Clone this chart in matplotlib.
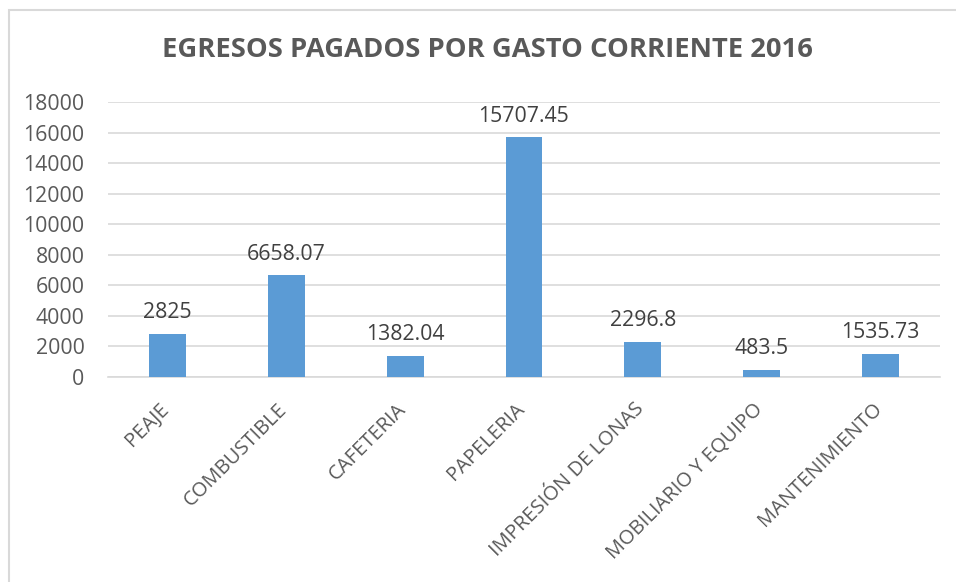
import matplotlib
matplotlib.use("Agg")
import matplotlib.pyplot as plt
from matplotlib.patches import Rectangle
from matplotlib.transforms import ScaledTranslation

categories = ["PEAJE", "COMBUSTIBLE", "CAFETERIA", "PAPELERIA",
              "IMPRESIÓN DE LONAS", "MOBILIARIO Y EQUIPO", "MANTENIMIENTO"]
values = [2825, 6658.07, 1382.04, 15707.45, 2296.8, 483.5, 1535.73]
value_labels = ["2825", "6658.07", "1382.04", "15707.45", "2296.8", "483.5", "1535.73"]
yticks = [0, 2000, 4000, 6000, 8000, 10000, 12000, 14000, 16000, 18000]

plt.rcParams['font.family'] = ['Open Sans', 'DejaVu Sans']

W, H = 956, 582
fig = plt.figure(figsize=(W / 100, H / 100), dpi=100)
fig.patch.set_facecolor("white")

# outer chart border
fig.add_artist(Rectangle((9 / W, -0.05), 1.2, 1 - 10 / H + 0.05, transform=fig.transFigure,
                         fill=False, edgecolor="#D9D9D9", linewidth=1.5))

ax = fig.add_axes([108 / W, 1 - 377 / H, (940 - 108) / W, (377 - 102) / H])
x = list(range(len(categories)))
ax.bar(x, values, width=0.31, color="#5B9BD5", zorder=3)
ax.set_xlim(-0.5, len(categories) - 0.5)
ax.set_ylim(0, 18000)
ax.set_yticks(yticks)
ax.set_yticklabels([str(t) for t in yticks], fontsize=15.3, color="#595959")
ax.yaxis.grid(True, color="#D9D9D9", linewidth=1.2, zorder=0)
ax.set_axisbelow(True)
for s in ["top", "right", "left"]:
    ax.spines[s].set_visible(False)
ax.spines["bottom"].set_color("#D9D9D9")
ax.spines["bottom"].set_linewidth(1.2)
ax.tick_params(axis="y", length=0, pad=17)
ax.set_xticks(x)
ax.set_xticklabels(categories, rotation=45, ha="right", rotation_mode="anchor",
                   fontsize=14.5, color="#595959")
ax.tick_params(axis="x", length=0, pad=16)
shift = ScaledTranslation(-9 / 100, 0, fig.dpi_scale_trans)
for lbl in ax.get_xticklabels():
    lbl.set_transform(lbl.get_transform() + shift)

for xi, v, lab in zip(x, values, value_labels):
    ax.annotate(lab, (xi, v), xytext=(0, 7.5), textcoords="offset points",
                ha="center", va="bottom", fontsize=15.3, color="#404040")

fig.text(487 / W, 1 - 50 / H, "EGRESOS PAGADOS POR GASTO CORRIENTE 2016",
         ha="center", va="center", fontsize=19.7, fontweight="bold", color="#595959")

fig.savefig("out.png", dpi=100)
